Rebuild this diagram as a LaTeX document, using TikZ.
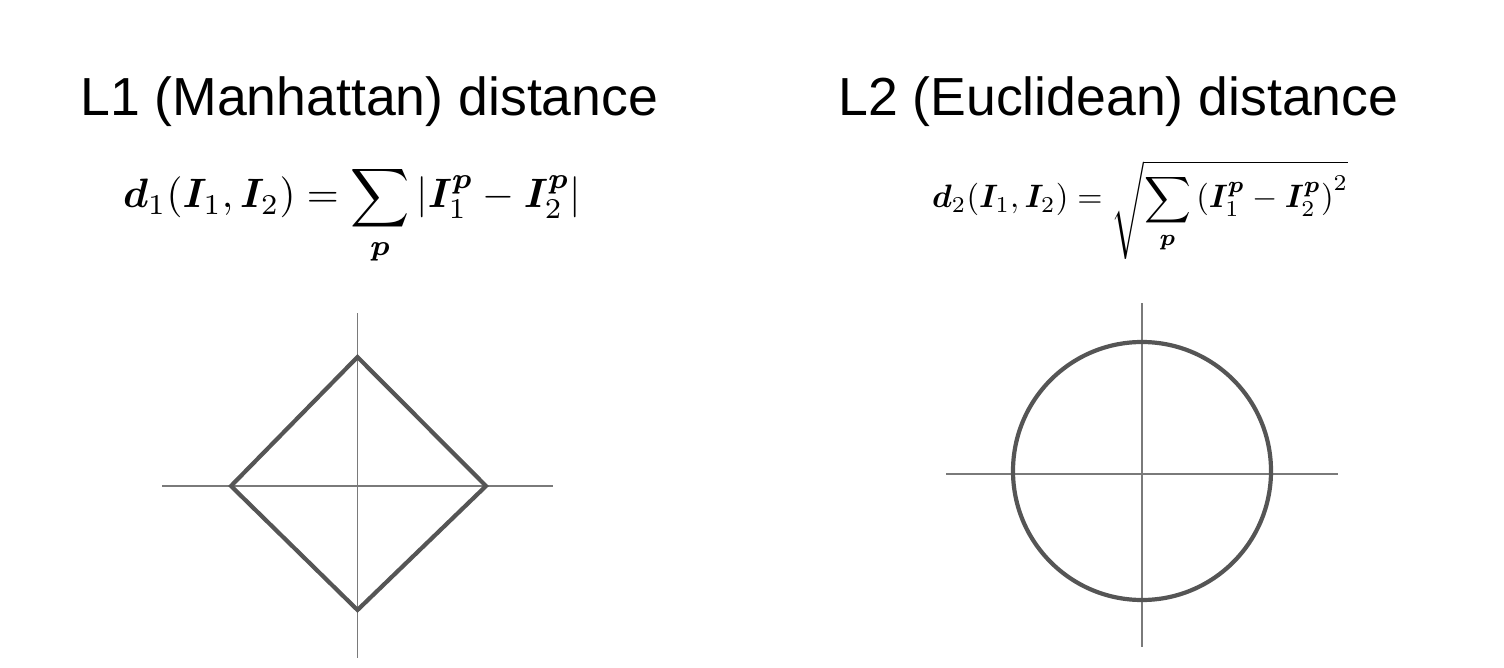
\documentclass[tikz,border=0pt]{standalone}
\usepackage{fontspec}
\setmainfont{Liberation Sans}
\usepackage{amsmath}
\usepackage{bm}
\begin{document}
\begin{tikzpicture}[x=1pt,y=-1pt,
  title/.style={font=\fontsize{53.6}{60}\selectfont, inner sep=0pt, anchor=base west, text=black},
  formula/.style={inner sep=0pt, anchor=base west, text=black},
  axisline/.style={draw=axisgray, line width=1.4pt},
  outline/.style={draw=shapegray, line width=4.2pt, line join=miter}]
\definecolor{axisgray}{HTML}{7A7A7A}
\definecolor{shapegray}{HTML}{555555}
\useasboundingbox[fill=white] (0,0) rectangle (1504,668);

% titles
\node[title] (t1) at (80,116) {L1 (Manhattan) distance};
\node[title] (t2) at (838,116) {L2 (Euclidean) distance};

% formulas
\node[formula] (f1) at (123,208) {\resizebox{458pt}{!}{$\displaystyle \bm{d}_1(\bm{I}_1,\bm{I}_2)=\sum_{\bm{p}} \left|\bm{I}_1^{\bm{p}}-\bm{I}_2^{\bm{p}}\right|$}};
\node[formula] (f2) at (932,208) {\resizebox{416pt}{!}{$\displaystyle \bm{d}_2(\bm{I}_1,\bm{I}_2)=\sqrt{\sum_{\bm{p}}\left(\bm{I}_1^{\bm{p}}-\bm{I}_2^{\bm{p}}\right)^2}$}};

% L1 axes
\coordinate (h1a) at (162,486);
\coordinate (h1b) at (553,486);
\coordinate (v1a) at (357.5,313);
\coordinate (v1b) at (357.5,658);
\draw[axisline] (h1a) -- (h1b);
\draw[axisline] (v1a) -- (v1b);
% diamond
\coordinate (dT) at (357.5,357);
\coordinate (dR) at (486,486);
\coordinate (dB) at (357.5,610);
\coordinate (dL) at (231,486);
\draw[outline] (dT) -- (dR) -- (dB) -- (dL) -- cycle;

% L2 axes
\coordinate (c2) at (1142,471);
\coordinate (h2a) at (946,474);
\coordinate (h2b) at (1338,474);
\coordinate (v2a) at (1142,303);
\coordinate (v2b) at (1142,647);
\draw[axisline] (h2a) -- (h2b);
\draw[axisline] (v2a) -- (v2b);
\draw[outline] (c2) circle[radius=129];
\end{tikzpicture}
\end{document}
